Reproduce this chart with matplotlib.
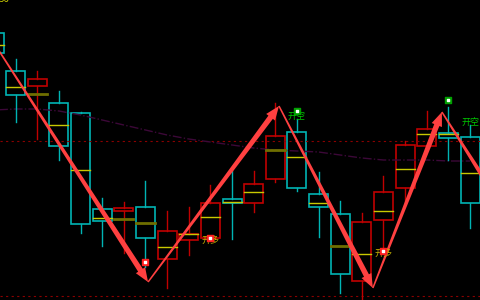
import matplotlib
matplotlib.use("Agg")
import matplotlib.pyplot as plt
from matplotlib.patches import Polygon, Rectangle
import numpy as np

plt.rcParams['font.family'] = ['Noto Sans CJK SC', 'DejaVu Sans']

# candle data (price units)
opens  = [267, 229, 214, 197, 187, 91, 89, 93, 41, 60, 62, 101, 97, 121, 168, 106, 86, 19, 80, 112, 154, 167, 163]
closes = [247, 205, 221, 154, 76, 79, 92, 62, 69, 66, 97, 97, 116, 164, 112, 93, 26, 78, 108, 155, 171, 162, 97]
highs  = [275, 241, 229, 209, 188, 102, 98, 119, 89, 93, 115, 129, 129, 197, 181, 128, 99, 87, 124, 159, 189, 193, 175]
lows   = [240, 178, 161, 140, 67, 54, 47, 33, 12, 45, 60, 61, 88, 118, 109, 63, 7, 0, 50, 97, 154, 140, 72]
mids   = [255, 213, 206, 175, 130, 82, 81, 77, 53, 66, 83, 98, 108, 150, 143, 97, 54, 46, 89, 131, 166, 166, 127]
mid_dim = [0, 0, 1, 0, 0, 0, 1, 1, 0, 0, 0, 0, 0, 1, 0, 0, 1, 0, 0, 0, 0, 0, 0]

# moving average line
ma = [190, 191, 191, 189, 185, 180, 175, 170, 165, 161, 158, 155, 152, 150, 149, 148, 145, 142, 140, 140, 140, 139, 139]

# arrow pivots
arrow_x = [0, 7.12, 13.17, 17.51, 20.7, 23.8]
arrow_y = [257, 18, 194, 12, 188, 82]

# signals
long_x, long_y = [10, 18], [60, 47]
short_x, short_y = [14, 22], [184, 178]
red_dot_x, red_dot_y = [7, 10, 18], [38, 62, 49]
green_dot_x, green_dot_y = [14, 21], [189, 200]

ref_levels = [159, 4]

UP = '#c00000'
DOWN = '#00b4b4'

fig = plt.figure(figsize=(4.8, 3.0), dpi=100, facecolor='black')
ax = fig.add_axes([0, 0, 1, 1])
ax.set_facecolor('black')
ax.set_xlim(0.277, 22.46)
ax.set_ylim(0, 300)
ax.axis('off')

for lv in ref_levels:
    ax.axhline(lv, color='#8b0000', lw=0.8, linestyle=(0, (2, 3)))

ax.plot(range(len(ma)), ma, color='#3c0838', lw=1, linestyle='-.')

w = 0.88
for i in range(len(opens)):
    o, c = opens[i], closes[i]
    col = UP if c >= o else DOWN
    top, bot = max(o, c), min(o, c)
    ax.plot([i, i], [top, highs[i]], color=col, lw=1)
    ax.plot([i, i], [lows[i], bot], color=col, lw=1)
    ax.add_patch(Rectangle((i - w / 2, bot), w, top - bot, fill=False, edgecolor=col, lw=1.2))
    if mid_dim[i]:
        ax.plot([i - w / 2, i + w / 2], [mids[i], mids[i]], color='#6e6e00', lw=2)
    else:
        ax.plot([i - w / 2, i + w / 2], [mids[i], mids[i]], color='#c8c800', lw=1)


def tapered_arrow(x0, y0, x1, y1, w0=1.5, w1=5.5, head_w=11, head_len=14, color='#ff4040'):
    p0 = ax.transData.transform((x0, y0))
    p1 = ax.transData.transform((x1, y1))
    d = p1 - p0
    u = d / np.hypot(*d)
    n = np.array([-u[1], u[0]])
    base = p1 - u * head_len
    pts = [p0 + n * w0 / 2, base + n * w1 / 2, base + n * head_w / 2, p1,
           base - n * head_w / 2, base - n * w1 / 2, p0 - n * w0 / 2]
    ax.add_patch(Polygon(ax.transData.inverted().transform(pts), closed=True,
                         facecolor=color, edgecolor='none', zorder=5))


for k in range(len(arrow_x) - 1):
    tapered_arrow(arrow_x[k], arrow_y[k], arrow_x[k + 1], arrow_y[k + 1])

for x, y in zip(long_x, long_y):
    ax.text(x, y, '开多', color='#c8b400', fontsize=6.5, ha='center', va='center', zorder=6)
for x, y in zip(short_x, short_y):
    ax.text(x, y, '开空', color='#00c800', fontsize=6.5, ha='center', va='center', zorder=6)

ax.scatter(red_dot_x, red_dot_y, marker='s', s=14, color='#ff2020', zorder=7)
ax.scatter(red_dot_x, red_dot_y, marker='s', s=1.5, color='white', zorder=8)
ax.scatter(green_dot_x, green_dot_y, marker='s', s=14, color='#00a000', zorder=7)
ax.scatter(green_dot_x, green_dot_y, marker='s', s=1.5, color='white', zorder=8)

fig.text(-0.003, 1.0 - 4 / 300, '56', color='#c8c800', fontsize=7, va='bottom', ha='left')

fig.savefig('out.png', dpi=100, facecolor='black')
